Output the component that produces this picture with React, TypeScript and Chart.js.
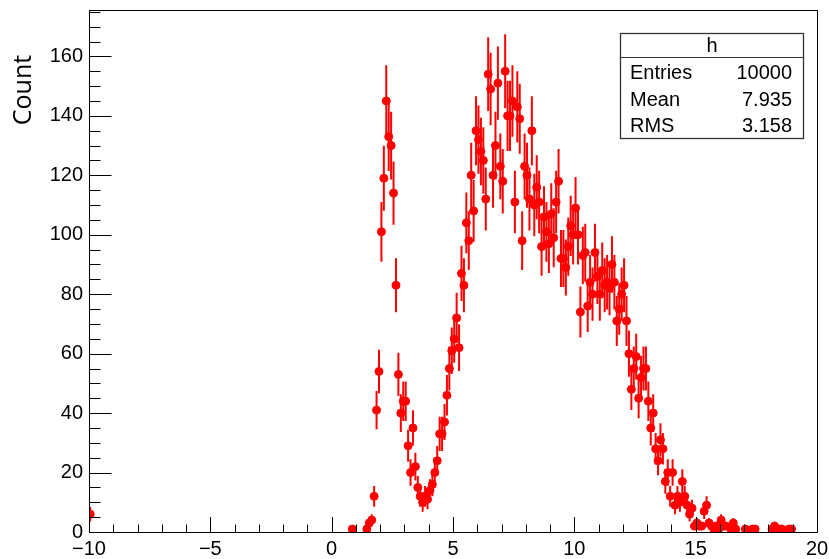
import React, { useEffect, useRef } from "react";
import { Chart, registerables } from "chart.js";

Chart.register(...registerables);

const binCenters: number[] = [
  -9.95,
  0.85, 1.45, 1.55, 1.65, 1.75, 1.85, 1.95, 2.05, 2.15, 2.25, 2.35, 2.45, 2.55, 2.65, 2.75, 2.85, 2.95,
  3.05, 3.15, 3.25, 3.35, 3.45, 3.55, 3.65, 3.75, 3.85, 3.95,
  4.05, 4.15, 4.25, 4.35, 4.45, 4.55, 4.65, 4.75, 4.85, 4.95,
  5.05, 5.15, 5.25, 5.35, 5.45, 5.55, 5.65, 5.75, 5.85, 5.95,
  6.05, 6.15, 6.25, 6.35, 6.45, 6.55, 6.65, 6.75, 6.85, 6.95,
  7.05, 7.15, 7.25, 7.35, 7.45, 7.55, 7.65, 7.75, 7.85, 7.95,
  8.05, 8.15, 8.25, 8.35, 8.45, 8.55, 8.65, 8.75, 8.85, 8.95,
  9.05, 9.15, 9.25, 9.35, 9.45, 9.55, 9.65, 9.75, 9.85, 9.95,
  10.05, 10.15, 10.25, 10.35, 10.45, 10.55, 10.65, 10.75, 10.85, 10.95,
  11.05, 11.15, 11.25, 11.35, 11.45, 11.55, 11.65, 11.75, 11.85, 11.95,
  12.05, 12.15, 12.25, 12.35, 12.45, 12.55, 12.65, 12.75, 12.85, 12.95,
  13.05, 13.15, 13.25, 13.35, 13.45, 13.55, 13.65, 13.75, 13.85, 13.95,
  14.05, 14.15, 14.25, 14.35, 14.45, 14.55, 14.65, 14.75, 14.85, 14.95,
  15.05, 15.15, 15.25, 15.35, 15.45, 15.55, 15.65, 15.75, 15.85, 15.95,
  16.05, 16.15, 16.25, 16.45, 16.55, 16.65,
  17.05, 17.35, 17.45,
  18.15, 18.25, 18.45, 18.55, 18.85, 18.95,
];

const counts: number[] = [
  6,
  1, 1, 3, 4, 12, 41, 54, 101, 119, 145, 133, 130, 114, 83, 53, 40, 44,
  44, 29, 20, 35, 22, 15, 12, 10, 12, 11,
  14, 16, 20, 24, 33, 33, 37, 46, 55, 61,
  65, 72, 62, 87, 83, 104, 98, 120, 108, 135,
  132, 128, 125, 112, 154, 149, 120, 130, 151, 123,
  118, 155, 140, 140, 145, 111, 143, 139, 98, 123,
  120, 112, 135, 110, 116, 111, 96, 106, 101, 97,
  107, 99, 111, 118, 92, 92, 89, 96, 103, 100,
  109, 100, 74, 93, 94, 76, 84, 80, 94, 86,
  80, 88, 83, 84, 82, 90, 84, 71, 75, 80,
  83, 71, 60, 48, 55, 59, 45, 52, 55, 55,
  44, 35, 40, 28, 24, 31, 28, 17, 20, 12,
  20, 9, 12, 10, 17, 12, 9, 6, 8, 2,
  3, 2, 2, 7, 9, 3, 2, 1, 2, 1,
  4, 2, 2, 1, 3, 1,
  1, 1, 1,
  1, 2, 1, 1, 1, 1,
];

const xTickValues: number[] = [-10, -5, 0, 5, 10, 15, 20];
const yTickValues: number[] = [0, 20, 40, 60, 80, 100, 120, 140, 160];

const statsTitle = "h";
const statsLabels: string[] = ["Entries", "Mean", "RMS"];
const statsValues: string[] = ["10000", "7.935", "3.158"];
const yTitle = "Count";

const X_MIN = -10;
const X_MAX = 20;
const Y_MIN = 0;
const Y_MAX = 175.6;
const BIN_HALF = 0.05;

const FONT = "'Liberation Sans', Arial, Helvetica, sans-serif";

const rootPlugin = {
  id: "rootStyle",
  beforeDatasetsDraw(chart: any) {
    const { ctx, chartArea, scales } = chart;
    const xs = scales.x;
    const ys = scales.y;
    ctx.save();
    ctx.beginPath();
    ctx.rect(chartArea.left, chartArea.top, chartArea.right - chartArea.left, chartArea.bottom - chartArea.top);
    ctx.clip();
    ctx.strokeStyle = "#ff0000";
    ctx.lineWidth = 2;
    for (let i = 0; i < binCenters.length; i++) {
      const c = binCenters[i];
      const v = counts[i];
      const e = Math.sqrt(v);
      const px = xs.getPixelForValue(c);
      const top = ys.getPixelForValue(v + e);
      const bot = ys.getPixelForValue(Math.max(0, v - e));
      ctx.beginPath();
      ctx.moveTo(px, top);
      ctx.lineTo(px, bot);
      const py = ys.getPixelForValue(v);
      ctx.moveTo(xs.getPixelForValue(c - BIN_HALF), py);
      ctx.lineTo(xs.getPixelForValue(c + BIN_HALF), py);
      ctx.stroke();
    }
    ctx.restore();
  },
  afterDraw(chart: any) {
    const { ctx, chartArea, scales } = chart;
    const xs = scales.x;
    const ys = scales.y;
    const L = Math.round(chartArea.left) + 0.5;
    const R = Math.round(chartArea.right) + 0.5;
    const T = Math.round(chartArea.top) + 0.5;
    const B = Math.round(chartArea.bottom) + 0.5;
    ctx.save();
    ctx.strokeStyle = "#000";
    ctx.lineWidth = 1;
    ctx.strokeRect(L, T, R - L, B - T);
    ctx.beginPath();
    for (let v = X_MIN; v <= X_MAX; v += 1) {
      const px = Math.round(xs.getPixelForValue(v)) + 0.5;
      const len = v % 5 === 0 ? 15.5 : 8;
      ctx.moveTo(px, B);
      ctx.lineTo(px, B - len);
    }
    for (let v = 0; v <= Y_MAX; v += 5) {
      const py = Math.round(ys.getPixelForValue(v)) + 0.5;
      const len = v % 20 === 0 ? 22 : 11;
      ctx.moveTo(L, py);
      ctx.lineTo(L + len, py);
    }
    ctx.stroke();

    // y-axis title
    ctx.fillStyle = "#000";
    ctx.font = "25px 'Open Sans', sans-serif";
    ctx.translate(31, 90);
    ctx.rotate(-Math.PI / 2);
    ctx.textAlign = "center";
    ctx.textBaseline = "alphabetic";
    ctx.fillText(yTitle, 0, 0);
    ctx.restore();

    // stats box
    ctx.save();
    const bx = 620.5, by = 33.5, bw = 183, bh = 105;
    ctx.fillStyle = "#fff";
    ctx.fillRect(bx, by, bw, bh);
    ctx.strokeStyle = "#333";
    ctx.lineWidth = 1.3;
    ctx.strokeRect(bx, by, bw, bh);
    ctx.beginPath();
    ctx.lineWidth = 1;
    ctx.moveTo(bx, 57.5);
    ctx.lineTo(bx + bw, 57.5);
    ctx.stroke();
    ctx.fillStyle = "#000";
    ctx.font = `20px ${FONT}`;
    ctx.textBaseline = "middle";
    ctx.textAlign = "center";
    ctx.fillText(statsTitle, bx + bw / 2, 46);
    const rowsY = [73.5, 100, 126];
    for (let i = 0; i < statsLabels.length; i++) {
      ctx.textAlign = "left";
      ctx.fillText(statsLabels[i], 630, rowsY[i]);
      ctx.textAlign = "right";
      ctx.fillText(statsValues[i], 792, rowsY[i]);
    }
    ctx.restore();
  },
};

export default function App() {
  const canvasRef = useRef<HTMLCanvasElement | null>(null);

  useEffect(() => {
    const canvas = canvasRef.current;
    if (!canvas) return;
    const points = binCenters.map((c, i) => ({ x: c, y: counts[i] }));
    const chart = new Chart(canvas, {
      type: "scatter",
      data: {
        datasets: [
          {
            data: points,
            backgroundColor: "#ff0000",
            borderColor: "#ff0000",
            pointRadius: 4,
            pointBorderWidth: 1,
            showLine: false,
          } as any,
        ],
      },
      options: {
        responsive: false,
        devicePixelRatio: 1,
        animation: false,
        layout: { padding: { top: 10, right: 12, left: 0, bottom: 0 } },
        plugins: { legend: { display: false }, tooltip: { enabled: false } },
        scales: {
          x: {
            type: "linear",
            min: X_MIN,
            max: X_MAX,
            grid: { display: false, drawTicks: false },
            border: { display: false },
            afterBuildTicks: (s: any) => {
              s.ticks = xTickValues.map((v) => ({ value: v }));
            },
            afterFit: (s: any) => {
              s.height = 27;
              s.paddingLeft = 0;
              s.paddingRight = 0;
            },
            ticks: {
              autoSkip: false,
              maxRotation: 0,
              padding: 5,
              color: "#000",
              font: { family: FONT, size: 20 },
              callback: (v: any) => String(v).replace("-", "\u2212"),
            },
          },
          y: {
            type: "linear",
            min: Y_MIN,
            max: Y_MAX,
            grid: { display: false, drawTicks: false },
            border: { display: false },
            afterBuildTicks: (s: any) => {
              s.ticks = yTickValues.map((v) => ({ value: v }));
            },
            afterFit: (s: any) => {
              s.width = 89;
              s.paddingTop = 0;
              s.paddingBottom = 0;
            },
            ticks: {
              autoSkip: false,
              padding: 6,
              color: "#000",
              font: { family: FONT, size: 20 },
            },
          },
        },
      },
      plugins: [rootPlugin],
    });
    return () => chart.destroy();
  }, []);

  return (
    <div style={{ position: "fixed", left: 0, top: 0, width: 829, height: 559, background: "#fff" }}>
      <canvas ref={canvasRef} width={829} height={559} style={{ display: "block" }} />
    </div>
  );
}
